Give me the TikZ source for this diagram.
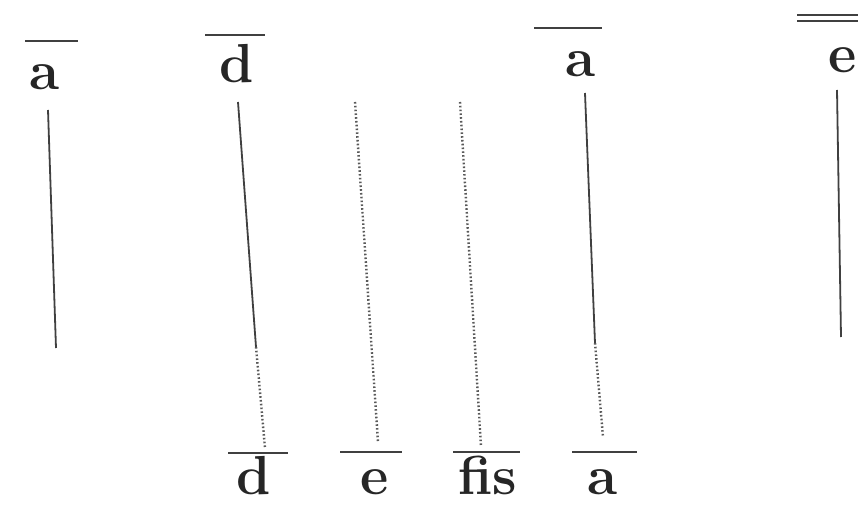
\documentclass[tikz,border=0pt]{standalone}
\begin{document}
\begin{tikzpicture}[x=1pt,y=-1pt,
  lbl/.style={font=\fontsize{55}{60}\selectfont\bfseries, anchor=base, inner sep=0pt, text=black!85},
  solidln/.style={line width=1.8pt, black!75},
  dotln/.style={line width=2.4pt, black!65, dash pattern=on 1.6pt off 2.2pt},
  barln/.style={line width=1.8pt, black!75}]
\useasboundingbox (0,0) rectangle (867,505);
% top labels
\node[lbl] (ta1) at (45,90) {a};
\node[lbl] (td) at (237,83) {d};
\node[lbl] (ta2) at (581,77) {a};
\node[lbl] (te) at (843,73) {e};
% top bars
\draw[barln] (25,41) -- (78,41);
\draw[barln] (205,35) -- (265,35);
\draw[barln] (534,28) -- (602,28);
\draw[barln] (797,15) -- (858,15);
\draw[barln] (797,21) -- (858,21);
% bottom labels
\node[lbl] (bd) at (254,494) {d};
\node[lbl] (be) at (375,494) {e};
\node[lbl] (bf) at (488,494) {fis};
\node[lbl] (ba) at (603,494) {a};
% bottom bars
\draw[barln] (228,453) -- (288,453);
\draw[barln] (340,452) -- (402,452);
\draw[barln] (453,452) -- (520,452);
\draw[barln] (572,452) -- (637,452);
% lines
\coordinate (l1a) at (48,110); \coordinate (l1b) at (56,348);
\coordinate (l2a) at (238,102); \coordinate (l2b) at (256,347); \coordinate (l2c) at (265,448);
\coordinate (l3a) at (355,102); \coordinate (l3b) at (378,442);
\coordinate (l4a) at (460,102); \coordinate (l4b) at (481,446);
\coordinate (l5a) at (585,93); \coordinate (l5b) at (595,343); \coordinate (l5c) at (603,437);
\coordinate (l6a) at (837,90); \coordinate (l6b) at (841,337);
\draw[solidln] (l1a) -- (l1b);
\draw[solidln] (l2a) -- (l2b);
\draw[dotln] (l2b) -- (l2c);
\draw[dotln] (l3a) -- (l3b);
\draw[dotln] (l4a) -- (l4b);
\draw[solidln] (l5a) -- (l5b);
\draw[dotln] (l5b) -- (l5c);
\draw[solidln] (l6a) -- (l6b);
\end{tikzpicture}
\end{document}
